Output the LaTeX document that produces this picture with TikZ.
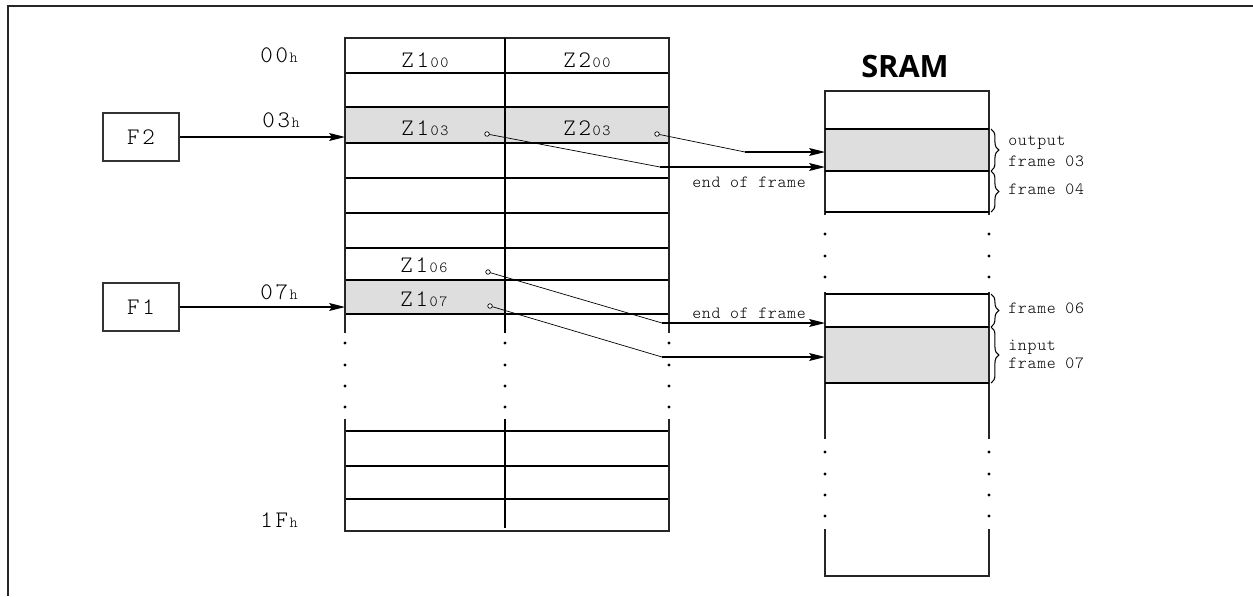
\documentclass[tikz,border=0pt]{standalone}
\usepackage{fontspec}
\newfontfamily\titlefont{Open Sans}
\newfontfamily\regfont{Latin Modern Mono Light}[LetterSpace=12.0]
\newfontfamily\notefont{Latin Modern Mono Light}[LetterSpace=4.0]
\usetikzlibrary{arrows.meta, decorations.pathreplacing}
\definecolor{cellgray}{RGB}{222,222,222}
\newcommand{\bigmono}{\fontsize{13.5}{16}\selectfont\regfont}
\newcommand{\smallmono}{\fontsize{8.8}{10}\selectfont\regfont}
\newcommand{\idx}[2]{{\bigmono #1}\kern0.8pt{\smallmono #2}}

\begin{document}
\begin{tikzpicture}[x=0.02cm, y=-0.02cm,
    rowline/.style={line width=1.2pt, black},
    edgeline/.style={line width=0.7pt, black!85},
    tag/.style={draw=black!80, line width=0.6pt, minimum width=1.52cm, minimum height=0.96cm,
                font=\bigmono, inner sep=0pt},
    label/.style={font=\fontsize{9.7}{11}\selectfont\notefont, inner sep=0pt},
    cell/.style={inner sep=0pt, anchor=base},
    arr/.style={-{Stealth[length=9pt, width=4.5pt, inset=1.5pt]}, line width=0.6pt},
    link/.style={line width=0.4pt},
    pin/.style={draw, fill=white, line width=0.4pt},
    dot/.style={fill=black},
    bracket/.style={decorate, decoration={brace, amplitude=4.5pt}, line width=0.6pt},
  ]
    \useasboundingbox (0,0) rectangle (1253,596);
    % outer frame, cut off at right and bottom
    \draw[edgeline] (8,596) -- (8,6) -- (1253,6);

    % ---- register table ----
    \fill[cellgray] (345,107) rectangle (669,143);
    \fill[cellgray] (345,280) rectangle (505,314);
    \foreach \y in {73,107,143,178,213,248,280,314}
      \draw[rowline] (345,\y) -- (669,\y);
    \draw[edgeline] (345,333) -- (345,38) -- (669,38) -- (669,333);
    \draw[rowline] (505,38) -- (505,333);
    \foreach \x in {345,505,669}
      \foreach \y in {343,365,386,407}
        \fill[dot] (\x,\y) circle (0.9pt);
    \foreach \y in {431,466,499}
      \draw[rowline] (345,\y) -- (669,\y);
    \draw[edgeline] (345,419) -- (345,531) -- (669,531) -- (669,419);
    \draw[rowline] (505,419) -- (505,528);
    \coordinate (tabL) at (345,0);

    \node[cell] (z100) at (425,67)  {\idx{Z1}{00}};
    \node[cell] (z200) at (587,67)  {\idx{Z2}{00}};
    \node[cell] (z103) at (425,135) {\idx{Z1}{03}};
    \node[cell] (z203) at (587,135) {\idx{Z2}{03}};
    \node[cell] (z106) at (424,272) {\idx{Z1}{06}};
    \node[cell] (z107) at (424,306) {\idx{Z1}{07}};

    \node[cell, anchor=base west] (a00) at (260,62)  {\idx{00}{h}};
    \node[cell, anchor=base west] (a03) at (262,127) {\idx{03}{h}};
    \node[cell, anchor=base west] (a07) at (260,299) {\idx{07}{h}};
    \node[cell, anchor=base west] (a1F) at (260,527) {\idx{1F}{h}};

    % ---- frame pointers ----
    \node[tag] (F2) at (141,137) {F2};
    \node[tag] (F1) at (141,307) {F1};
    \draw[arr] (F2) -- (F2 -| tabL);
    \draw[arr] (F1) -- (F1 -| tabL);

    % ---- SRAM ----
    \node[font=\titlefont\bfseries\fontsize{17.5}{20}\selectfont, inner sep=0pt] (sram) at (905,67) {SRAM};
    \fill[cellgray] (825,129) rectangle (989,171);
    \fill[cellgray] (825,327) rectangle (989,383);
    \draw[edgeline] (825,215) -- (825,91) -- (989,91) -- (989,215);
    \foreach \y in {129,171,212}
      \draw[rowline] (825,\y) -- (989,\y);
    \foreach \x in {825,989}
      \foreach \y in {234,256,277}
        \fill[dot] (\x,\y) circle (0.9pt);
    \draw[edgeline] (825,292) -- (825,439);
    \draw[edgeline] (989,292) -- (989,439);
    \foreach \y in {294,327,383}
      \draw[rowline] (825,\y) -- (989,\y);
    \foreach \x in {825,989}
      \foreach \y in {452,474,495,516}
        \fill[dot] (\x,\y) circle (0.9pt);
    \draw[edgeline] (825,529) -- (825,576) -- (989,576) -- (989,529);

    \draw[bracket] (991,129) -- (991,171);
    \draw[bracket] (991,171) -- (991,212);
    \draw[bracket] (991,294) -- (991,327);
    \draw[bracket] (991,327) -- (991,383);
    \node[label, anchor=base west] (lout) at (1008,145) {output};
    \node[label, anchor=base west] (l03)  at (1008,166) {frame 03};
    \node[label, anchor=base west] (l04)  at (1008,194) {frame 04};
    \node[label, anchor=base west] (l06)  at (1008,313) {frame 06};
    \node[label, anchor=base west] (lin)  at (1008,350) {input};
    \node[label, anchor=base west] (l07)  at (1008,368) {frame 07};

    % ---- links from the registers ----
    \coordinate (c103) at (487,134);  \coordinate (b103) at (660,167);  \coordinate (t103) at (825,167);
    \coordinate (c203) at (657,134);  \coordinate (b203) at (745,152);  \coordinate (t203) at (825,152);
    \coordinate (c106) at (488,272);  \coordinate (b106) at (662,323);  \coordinate (t106) at (825,323);
    \coordinate (c107) at (490,306);  \coordinate (b107) at (662,357);  \coordinate (t107) at (825,357);
    \foreach \r in {103,203,106,107} {
      \draw[link] (c\r) -- (b\r);
      \draw[arr] (b\r) -- (t\r);
      \draw[pin] (c\r) circle (1.3pt);
    }
    \node[label, anchor=base] (eof1) at (749,187) {end of frame};
    \node[label, anchor=base] (eof2) at (749,318) {end of frame};
  \end{tikzpicture}
\end{document}
